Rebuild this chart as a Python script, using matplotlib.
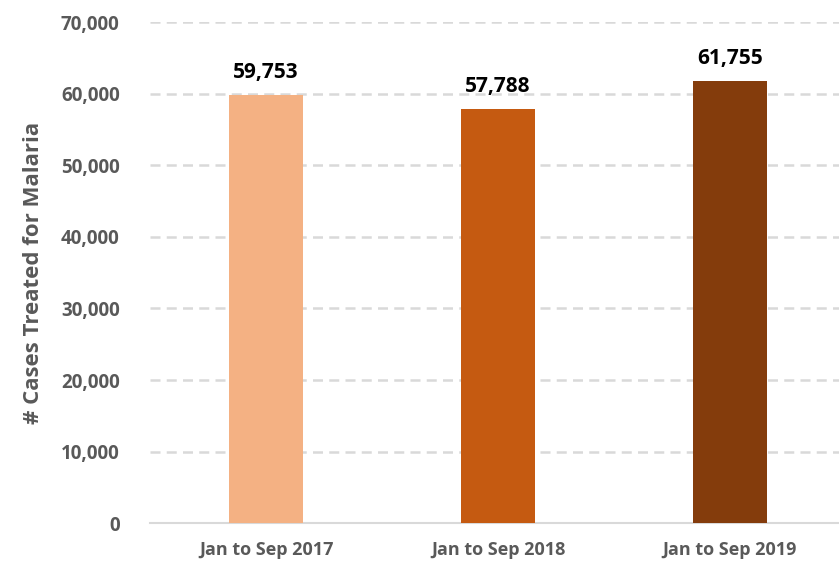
import matplotlib
matplotlib.use('Agg')
import matplotlib.pyplot as plt
from matplotlib.ticker import FuncFormatter

categories = ['Jan to Sep 2017', 'Jan to Sep 2018', 'Jan to Sep 2019']
cases = [59753, 57788, 61755]
colors = ['#F4B183', '#C55A11', '#843C0C']

plt.rcParams['font.family'] = ['Open Sans', 'DejaVu Sans']

fig = plt.figure(figsize=(8.39, 5.65), dpi=100)
ax = fig.add_axes([0.179, 0.074, 0.821, 0.887])

x = range(len(categories))
bars = ax.bar(x, cases, width=0.32, color=colors, zorder=3)

for xi, v in zip(x, cases):
    ax.text(xi, v + 1700, f'{v:,}', ha='center', va='bottom',
            fontsize=15, fontweight='bold', color='black')

ax.set_xlim(-0.5, 2.47)
ax.set_ylim(0, 70000)
ax.set_yticks(range(0, 70001, 10000))
ax.yaxis.set_major_formatter(FuncFormatter(lambda v, p: f'{int(v):,}'))
ax.set_xticks(list(x))
ax.set_xticklabels(categories)

ax.grid(axis='y', color='#d9d9d9', linestyle=(0, (4, 2.5)), linewidth=1.8, zorder=0)
for s in ['top', 'right', 'left']:
    ax.spines[s].set_visible(False)
ax.spines['bottom'].set_color('#d9d9d9')
ax.spines['bottom'].set_linewidth(1.5)

ax.tick_params(axis='both', length=0, colors='#595959')
ax.tick_params(axis='y', pad=22, labelsize=13.5)
ax.tick_params(axis='x', pad=13, labelsize=13)
for lbl in ax.get_xticklabels() + ax.get_yticklabels():
    lbl.set_fontweight('bold')

ax.set_ylabel('# Cases Treated for Malaria', fontsize=16, fontweight='bold',
              color='#595959', labelpad=12)

plt.savefig('out.png', dpi=100)
